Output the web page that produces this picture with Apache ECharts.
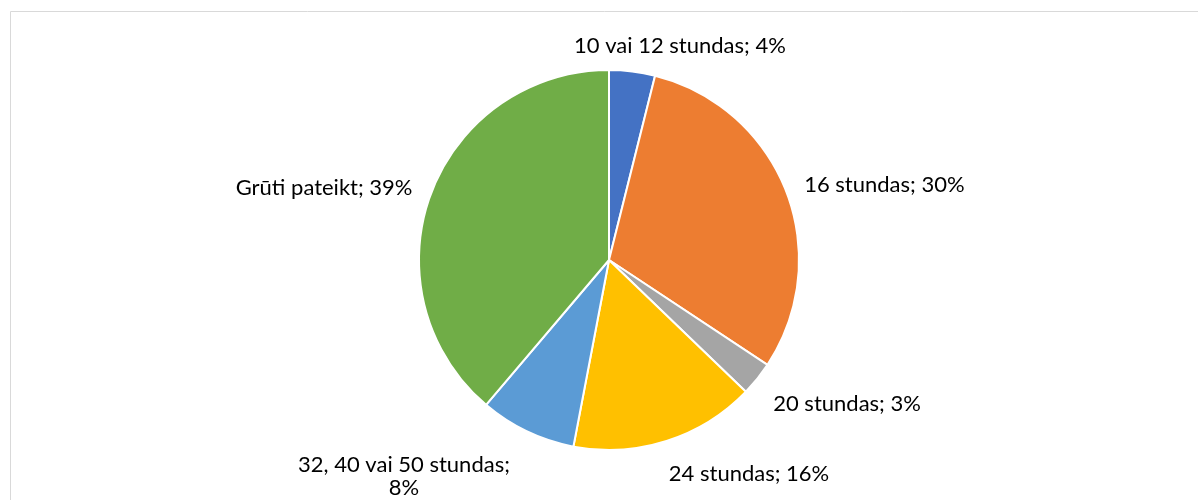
<!DOCTYPE html>
<html><head><meta charset="utf-8">
<script src="https://cdn.jsdelivr.net/npm/echarts@6/dist/echarts.min.js"></script>
<style>html,body{margin:0;padding:0;background:#fff}#c{width:1198px;height:500px}</style>
</head><body><div id="c"></div>
<script>
const categories = ['10 vai 12 stundas', '16 stundas', '20 stundas', '24 stundas', '32, 40 vai 50 stundas', 'Grūti pateikt'];
const values = [3.9, 30.4, 2.9, 15.8, 8.2, 38.8];
const colors = ['#4472C4', '#ED7D31', '#A5A5A5', '#FFC000', '#5B9BD5', '#70AD47'];
const labelShift = [[41, -12, 'center'], [0, -1, null], [0, 16, null], [-7, 19, null], [-112, 32, 'center'], [0, -2, null]];

const chart = echarts.init(document.getElementById('c'));
chart.setOption({
  animation: false,
  graphic: [{type: 'rect', shape: {x: 10.5, y: 11.5, width: 1200, height: 600}, style: {fill: 'none', stroke: '#D9D9D9', lineWidth: 1}, silent: true}],
  series: [{
    type: 'pie',
    center: [609, 260],
    radius: 190,
    startAngle: 90,
    clockwise: true,
    avoidLabelOverlap: false,
    itemStyle: {borderColor: '#fff', borderWidth: 2},
    label: {
      show: true, position: 'outside', color: '#000', fontFamily: 'Lato', fontSize: 22, lineHeight: 23,
      formatter: p => p.name + '; ' + Math.round(p.value) + '%'
    },
    labelLine: {show: false, length: 14, length2: 0},
    labelLayout: p => {
      const s = labelShift[p.dataIndex];
      const o = {dx: s[0], dy: s[1]};
      if (s[2]) o.align = s[2];
      return o;
    },
    data: categories.map((c, i) => ({
      name: c, value: values[i], itemStyle: {color: colors[i]},
      label: i === 4 ? {formatter: p => p.name + ';\n' + Math.round(p.value) + '%'} : undefined
    }))
  }]
});
</script></body></html>
